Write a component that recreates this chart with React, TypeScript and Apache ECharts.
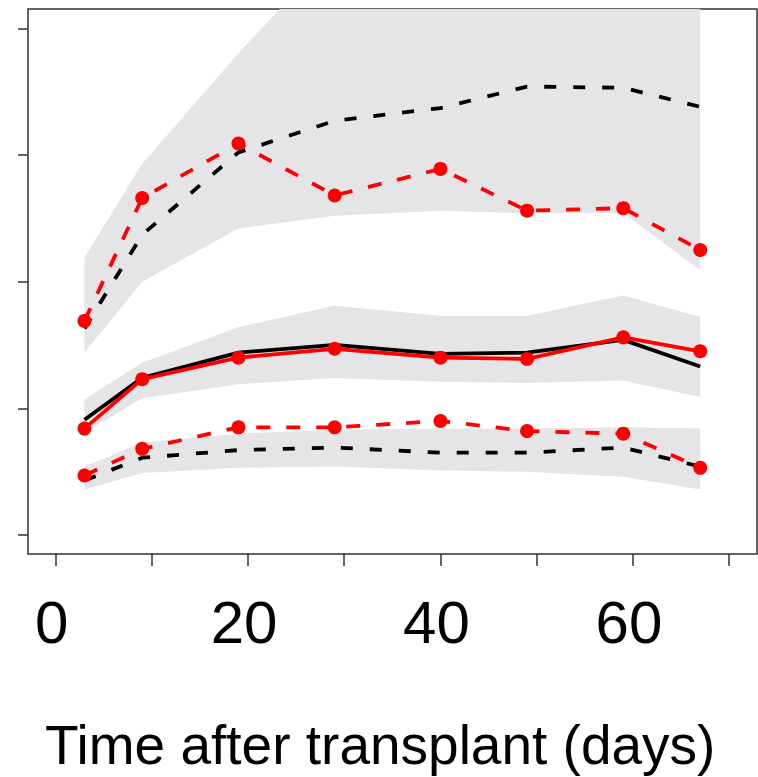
import React, { useEffect, useRef } from "react";
import * as echarts from "echarts";

const days = [3, 9, 19, 29, 40, 49, 59, 67];
const xTickValues = [0, 10, 20, 30, 40, 50, 60, 70];
const xLabelValues = [0, 20, 40, 60];
const yTickValues = [0, 1, 2, 3, 4];
const xTitle = "Time after transplant (days)";

const upperBandHigh = [2.19, 2.93, 3.8, 4.62, 4.9, 5.0, 5.0, 5.0];
const upperBandLow = [1.44, 2.0, 2.42, 2.52, 2.56, 2.54, 2.54, 2.09];
const upperBlack = [1.63, 2.37, 3.02, 3.27, 3.37, 3.54, 3.53, 3.38];
const upperRed = [1.69, 2.66, 3.09, 2.68, 2.89, 2.56, 2.58, 2.25];

const midBandHigh = [1.07, 1.36, 1.64, 1.81, 1.73, 1.73, 1.89, 1.72];
const midBandLow = [0.81, 1.08, 1.19, 1.24, 1.21, 1.2, 1.22, 1.09];
const midBlack = [0.91, 1.24, 1.44, 1.5, 1.43, 1.44, 1.54, 1.33];
const midRed = [0.84, 1.23, 1.4, 1.47, 1.4, 1.39, 1.56, 1.45];

const lowBandHigh = [0.54, 0.73, 0.8, 0.83, 0.84, 0.84, 0.85, 0.84];
const lowBandLow = [0.36, 0.49, 0.53, 0.54, 0.51, 0.5, 0.46, 0.36];
const lowBlack = [0.43, 0.61, 0.67, 0.69, 0.65, 0.65, 0.69, 0.54];
const lowRed = [0.47, 0.68, 0.85, 0.85, 0.9, 0.82, 0.8, 0.53];

const BAND = "#e5e5e7";

const pairs = (ys: number[]) => days.map((d, i) => [d, ys[i]]);

function bandSeries(low: number[], high: number[]) {
  return {
    type: "custom",
    coordinateSystem: "cartesian2d",
    clip: true,
    silent: true,
    z: 1,
    data: days.map((d, i) => [d, low[i], high[i]]),
    encode: { x: 0, y: [1, 2] },
    renderItem: (params: any, api: any) => {
      if (params.dataIndex !== 0) return null;
      const top = days.map((d, i) => api.coord([d, high[i]]));
      const bottom = days.map((d, i) => api.coord([d, low[i]])).reverse();
      return {
        type: "polygon",
        shape: { points: top.concat(bottom) },
        style: { fill: BAND },
      };
    },
  };
}

function lineSeries(ys: number[], color: string, dashed: boolean, markers: boolean, z: number) {
  return {
    type: "line",
    data: pairs(ys),
    symbol: markers ? "circle" : "none",
    symbolSize: 14,
    showSymbol: markers,
    itemStyle: { color },
    lineStyle: {
      color,
      width: 3.8,
      type: dashed ? (color === "#000000" ? [12, 17] : [14, 16]) : "solid",
    },
    z,
  };
}

export default function App() {
  const ref = useRef<HTMLDivElement>(null);
  useEffect(() => {
    if (!ref.current) return;
    const chart = echarts.init(ref.current, null, { renderer: "svg" });
    chart.setOption({
      animation: false,
      backgroundColor: "#ffffff",
      grid: {
        left: 28,
        top: 9,
        right: 1,
        bottom: 223,
        outerBoundsMode: "none",
        containLabel: false,
        show: true,
        borderColor: "#333333",
        borderWidth: 1.5,
        backgroundColor: "transparent",
      },
      xAxis: {
        type: "value",
        min: -2.87,
        max: 72.9,
        axisLine: { show: false, onZero: false },
        splitLine: { show: false },
        axisTick: {
          show: true,
          customValues: xTickValues,
          length: 12,
          lineStyle: { color: "#333333", width: 1.5 },
        },
        axisLabel: {
          show: true,
          customValues: xLabelValues,
          margin: 38,
          fontSize: 60,
          color: "#000000",
          fontFamily: "'Liberation Sans', Arial, sans-serif",
          padding: [0, 8, 0, 0],
        },
      },
      yAxis: {
        type: "value",
        min: -0.15,
        max: 4.152,
        axisLine: { show: false, onZero: false },
        splitLine: { show: false },
        axisLabel: { show: false },
        axisTick: {
          show: true,
          customValues: yTickValues,
          length: 10,
          lineStyle: { color: "#333333", width: 1.5 },
        },
      },
      graphic: [
        {
          type: "text",
          x: 45,
          y: 717,
          silent: true,
          style: {
            text: xTitle,
            fontSize: 55,
            fontFamily: "'Liberation Sans', Arial, sans-serif",
            fill: "#000000",
            align: "left",
            verticalAlign: "top",
          },
        },
      ],
      series: [
        bandSeries(upperBandLow, upperBandHigh),
        bandSeries(midBandLow, midBandHigh),
        bandSeries(lowBandLow, lowBandHigh),
        lineSeries(upperBlack, "#000000", true, false, 3),
        lineSeries(midBlack, "#000000", false, false, 3),
        lineSeries(lowBlack, "#000000", true, false, 3),
        lineSeries(upperRed, "#ff0000", true, true, 4),
        lineSeries(midRed, "#ff0000", false, true, 4),
        lineSeries(lowRed, "#ff0000", true, true, 4),
      ],
    });
    return () => chart.dispose();
  }, []);
  return (
    <div
      ref={ref}
      style={{ position: "absolute", left: 0, top: 0, width: 758, height: 777 }}
    />
  );
}
